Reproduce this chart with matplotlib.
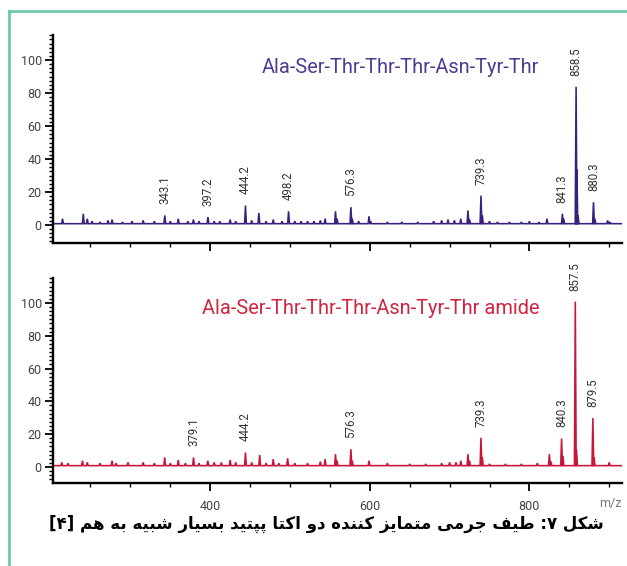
import matplotlib.pyplot as plt
from matplotlib.lines import Line2D
from matplotlib.ticker import MultipleLocator

# peak lists (m/z, relative intensity)
top_mz = [215, 241, 246, 252, 262, 272, 277, 290, 302, 316, 330, 343.1, 350,
          360, 372, 379, 386, 397.2, 405, 412, 425, 432, 444.2, 452, 461, 470,
          479, 490, 498.2, 506, 514, 522, 530, 538, 544, 557, 559, 576.3, 578,
          586, 599, 601, 622, 640, 660, 680, 690, 698, 706, 714, 723, 725,
          739.3, 741, 750, 760, 775, 790, 800, 812, 822, 841.3, 843, 858.5,
          859.5, 861, 880.3, 882, 898, 901]
top_int = [3, 6, 3, 1.5, 1, 2, 2.5, 1, 1.5, 2, 1.5, 5, 1.5,
           3, 1.5, 2.5, 1.5, 4, 1.5, 1.5, 2.5, 1.5, 11, 2, 6.5, 1.5,
           2.5, 1.5, 7.5, 1.5, 1.5, 1.5, 1.5, 2, 3, 7.5, 3, 10, 3,
           1.5, 4.5, 1.5, 1, 1, 1, 1.5, 2, 2.5, 2, 3, 8, 2.5,
           17, 5, 1.5, 1, 1, 1, 1.5, 1, 3, 6, 3, 83,
           33, 5, 13, 3, 2, 1]

bot_mz = [214, 222, 240, 246, 262, 277, 282, 297, 316, 330, 343, 350, 360,
          369, 379.1, 386, 397, 405, 414, 425, 432, 444.2, 452, 462, 470, 479,
          486, 497, 506, 522, 538, 544, 557, 559, 576.3, 578, 599, 622, 650,
          670, 690, 700, 708, 714, 723, 725, 739.3, 741, 750, 770, 790, 810,
          825, 827, 840.3, 842, 857.5, 859, 879.5, 881, 900]
bot_int = [2, 1.5, 3, 2, 1.5, 3, 1.5, 2, 2, 1.5, 5, 1.5, 3.5,
           1.5, 5, 1.5, 3, 2, 2, 3.5, 2, 8, 2, 6.5, 1.5, 4,
           1.5, 4.5, 1.5, 1.5, 2.5, 4, 7, 3, 10, 3, 3, 1.5, 1,
           1, 1.5, 2, 2, 3, 7, 3, 17, 5, 1, 1, 1, 1.5,
           7, 2.5, 16.5, 6, 100, 10, 29, 5, 2]

top_labels = [343.1, 397.2, 444.2, 498.2, 576.3, 739.3, 841.3, 858.5, 880.3]
bot_labels = [379.1, 444.2, 576.3, 739.3, 840.3, 857.5, 879.5]

top_title = "Ala-Ser-Thr-Thr-Thr-Asn-Tyr-Thr"
bot_title = "Ala-Ser-Thr-Thr-Thr-Asn-Tyr-Thr amide"
caption = "شکل ۷: طیف جرمی متمایز کننده دو اکتا پپتید بسیار شبیه به هم [۴]"

PURPLE = "#3b1f7c"
PURPLE_T = "#4d3a93"
RED = "#c8163a"
RED_T = "#d0243f"
NARROW = ["Roboto", "DejaVu Sans"]
XLIM = (203, 916)


# matplotlib has no arabic shaping, so pick presentation forms by hand
RIGHT_JOIN = {"ا": 0xFE8D, "د": 0xFEA9, "ر": 0xFEAD, "ز": 0xFEAF, "و": 0xFEED}
DUAL_JOIN = {"ب": 0xFE8F, "ت": 0xFE95, "ج": 0xFE9D, "س": 0xFEB1, "ش": 0xFEB5,
             "ط": 0xFEC1, "ف": 0xFED1, "ل": 0xFEDD, "م": 0xFEE1, "ن": 0xFEE5,
             "ه": 0xFEE9, "ی": 0xFBFC, "ک": 0xFB8E, "پ": 0xFB56}


def shape_rtl(text):
    out = []
    for i, ch in enumerate(text):
        prev = text[i - 1] if i > 0 else ""
        nxt = text[i + 1] if i + 1 < len(text) else ""
        join_prev = prev in DUAL_JOIN and (ch in DUAL_JOIN or ch in RIGHT_JOIN)
        join_next = ch in DUAL_JOIN and (nxt in DUAL_JOIN or nxt in RIGHT_JOIN)
        if ch in DUAL_JOIN:
            base = DUAL_JOIN[ch]
            off = 3 if join_prev and join_next else 1 if join_prev else 2 if join_next else 0
            out.append(chr(base + off))
        elif ch in RIGHT_JOIN:
            out.append(chr(RIGHT_JOIN[ch] + (1 if join_prev else 0)))
        else:
            out.append(ch)
    mirror = {"[": "]", "]": "["}
    return "".join(mirror.get(c, c) for c in reversed(out))


def trace(mz, inten, base=0.8):
    pairs = sorted(zip(mz, inten))
    xs, ys = [XLIM[0]], [base]
    for m, h in pairs:
        xs += [m - 1.1, m, m + 1.1]
        ys += [base, base + h, base]
    xs.append(XLIM[1])
    ys.append(base)
    return xs, ys


def draw(ax, mz, inten, labels, color, ylim, show_x):
    xs, ys = trace(mz, inten)
    ax.plot(xs, ys, color=color, lw=1.15, solid_joinstyle="miter")
    lookup = dict(zip(mz, inten))
    for lab in labels:
        ax.annotate(f"{lab:.1f}", (lab, lookup[lab] + 0.8), xytext=(0, 8),
                    textcoords="offset points", rotation=90, ha="center",
                    va="bottom", fontsize=8.3, color="#333333", family=NARROW)
    ax.set_xlim(*XLIM)
    ax.set_ylim(*ylim)
    for side in ("top", "right"):
        ax.spines[side].set_visible(False)
    for side in ("left", "bottom"):
        ax.spines[side].set_linewidth(1.7)
    ax.set_xticks([400, 600, 800])
    ax.xaxis.set_minor_locator(MultipleLocator(50))
    ax.set_yticks([0, 20, 40, 60, 80, 100])
    ax.yaxis.set_minor_locator(MultipleLocator(2.5))
    ax.tick_params(which="major", direction="out", length=6, width=1.3,
                   labelsize=9, labelcolor="#444444", pad=2)
    ax.tick_params(which="minor", direction="out", length=3, width=1.0)
    ax.tick_params(axis="x", which="major", pad=6, labelbottom=show_x)
    for t in ax.get_xticklabels() + ax.get_yticklabels():
        t.set_family(NARROW)
    ax.patch.set_visible(False)


fig = plt.figure(figsize=(6.27, 5.66), dpi=100)
ax1 = fig.add_axes([0.0845, 0.5707, 0.9075, 0.3675])
ax2 = fig.add_axes([0.0845, 0.1466, 0.9075, 0.3622])

draw(ax1, top_mz, top_int, top_labels, PURPLE, (-10.9, 115.2), False)
draw(ax2, bot_mz, bot_int, bot_labels, RED, (-9.8, 115.2), True)

fig.text(539 / 627, 1 - 73 / 566, top_title, ha="right", va="baseline",
         fontsize=14.4, color=PURPLE_T, family=NARROW)
fig.text(539 / 627, 1 - 314 / 566, bot_title, ha="right", va="baseline",
         fontsize=14.4, color=RED_T, family=NARROW)
fig.text(610 / 627, 1 - 503 / 566, "m/z", ha="center", va="center",
         fontsize=9, color="#777777", family=NARROW)

fig.text(0.521, 1 - 524 / 566, shape_rtl(caption), ha="center", va="center",
         fontsize=12, fontweight="bold", family="DejaVu Sans", color="black")

# green frame on the left and top
frame = "#6ccaa6"
fig.add_artist(Line2D([8.5 / 627, 8.5 / 627], [0, 1 - 11 / 566],
                      transform=fig.transFigure, color=frame, lw=2))
fig.add_artist(Line2D([8.5 / 627, 1], [1 - 11 / 566, 1 - 11 / 566],
                      transform=fig.transFigure, color=frame, lw=2))

fig.savefig("out.png", dpi=100)
